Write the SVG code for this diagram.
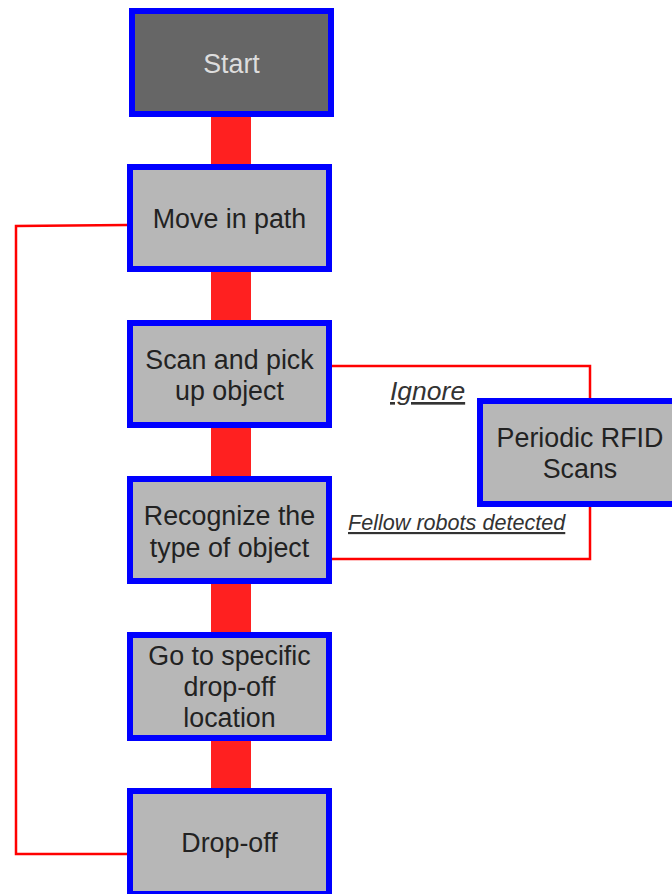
<svg xmlns="http://www.w3.org/2000/svg" width="672" height="894" viewBox="0 0 672 894">
<style>
.box{fill:#b7b7b7;stroke:#0000ff;stroke-width:6}
.start{fill:#666666;stroke:#0000ff;stroke-width:6}
.t{font-family:"Liberation Sans",Arial,sans-serif;font-size:26.8px;fill:#222222;text-anchor:middle}
.ts{font-family:"Liberation Sans",Arial,sans-serif;font-size:26.8px;fill:#dddddd;text-anchor:middle}
.lbl{font-family:"Liberation Sans",Arial,sans-serif;font-style:italic;text-decoration:underline;fill:#333333}
.bar{fill:#ff2020}
.ln{fill:none;stroke:#ff0000;stroke-width:2.5}
</style>
<rect width="672" height="894" fill="#ffffff"/>
<g id="connectors">
<rect class="bar" x="211" y="116" width="40" height="50"/>
<rect class="bar" x="211" y="271" width="40" height="51"/>
<rect class="bar" x="211" y="427" width="40" height="51"/>
<rect class="bar" x="211" y="583" width="40" height="51"/>
<rect class="bar" x="211" y="739" width="40" height="51"/>
<polyline class="ln" points="127,225 16,226 16,854 127,854"/>
<polyline class="ln" points="332,366 590,366 590,398"/>
<polyline class="ln" points="590,507 590,559 332,559"/>
<text class="lbl" x="390" y="400" font-size="26.5">Ignore</text>
<text class="lbl" x="348" y="530" font-size="21.6">Fellow robots detected</text>
</g>
<g id="start">
<rect class="start" x="132" y="11" width="199" height="103"/>
<text class="ts" x="231.5" y="73">Start</text>
</g>
<g id="move">
<rect class="box" x="130" y="167" width="199" height="102"/>
<text class="t" x="229.5" y="228">Move in path</text>
</g>
<g id="scan">
<rect class="box" x="130" y="323" width="199" height="102"/>
<text class="t" x="229.5" y="369">Scan and pick</text>
<text class="t" x="229.5" y="400">up object</text>
</g>
<g id="recognize">
<rect class="box" x="130" y="479" width="199" height="102"/>
<text class="t" x="229.5" y="525">Recognize the</text>
<text class="t" x="229.5" y="557">type of object</text>
</g>
<g id="goto">
<rect class="box" x="130" y="635" width="199" height="103"/>
<text class="t" x="229.5" y="665">Go to specific</text>
<text class="t" x="229.5" y="696">drop-off</text>
<text class="t" x="229.5" y="727">location</text>
</g>
<g id="dropoff">
<rect class="box" x="130" y="791" width="199" height="103"/>
<text class="t" x="229.5" y="852">Drop-off</text>
</g>
<g id="rfid">
<rect class="box" x="480" y="401" width="200" height="103"/>
<text class="t" x="580" y="447">Periodic RFID</text>
<text class="t" x="580" y="478">Scans</text>
</g>
</svg>
